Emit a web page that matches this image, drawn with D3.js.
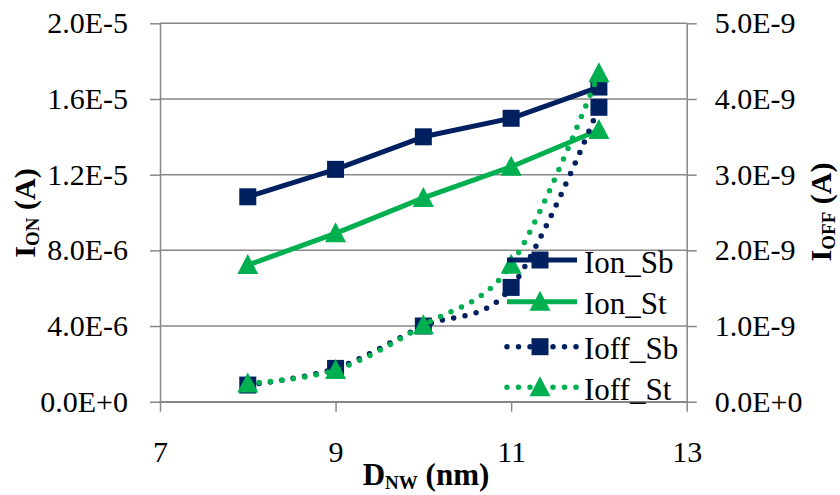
<!DOCTYPE html>
<html>
<head>
<meta charset="utf-8">
<script src="https://cdn.jsdelivr.net/npm/d3@7"></script>
<style>
  html, body { margin: 0; padding: 0; background: #fff; }
  svg { display: block; }
  text { font-family: "Liberation Serif", "Times New Roman", serif; fill: #000; }
</style>
</head>
<body>
<script>
// Nanowire diameter sweep: on-current (left axis) and off-current (right axis)
const diameters = [8, 9, 10, 11, 12];
const ionSb  = [1.083e-5, 1.228e-5, 1.400e-5, 1.498e-5, 1.663e-5];
const ionSt  = [7.22e-6, 8.90e-6, 1.077e-5, 1.242e-5, 1.436e-5];
const ioffSb = [0.22e-9, 0.44e-9, 1.00e-9, 1.51e-9, 3.89e-9];
const ioffSt = [0.24e-9, 0.42e-9, 1.01e-9, 1.81e-9, 4.34e-9];

const seriesNames = ["Ion_Sb", "Ion_St", "Ioff_Sb", "Ioff_St"];

const xTicks = [7, 9, 11, 13];
const leftTicks = [0, 4e-6, 8e-6, 1.2e-5, 1.6e-5, 2e-5];
const leftTickLabels = ["0.0E+0", "4.0E-6", "8.0E-6", "1.2E-5", "1.6E-5", "2.0E-5"];
const rightTicks = [0, 1e-9, 2e-9, 3e-9, 4e-9, 5e-9];
const rightTickLabels = ["0.0E+0", "1.0E-9", "2.0E-9", "3.0E-9", "4.0E-9", "5.0E-9"];

const W = 840, H = 495;
const plot = { left: 160, right: 686.7, top: 23.3, bottom: 401.7 };
const NAVY = "#002060", GREEN = "#00B050", GRID = "#878787";
const tickFont = 30;

const svg = d3.select("body").append("svg").attr("width", W).attr("height", H);
svg.append("rect").attr("width", W).attr("height", H).attr("fill", "#fff");

const x = d3.scaleLinear().domain([7, 13]).range([plot.left, plot.right]);
const yL = d3.scaleLinear().domain([0, 2e-5]).range([plot.bottom, plot.top]);
const yR = d3.scaleLinear().domain([0, 5e-9]).range([plot.bottom, plot.top]);

// horizontal gridlines
svg.append("g").selectAll("line").data(leftTicks).join("line")
  .attr("x1", plot.left).attr("x2", plot.right)
  .attr("y1", d => yL(d)).attr("y2", d => yL(d))
  .attr("stroke", GRID).attr("stroke-width", 1.5);

function styleAxis(g) {
  g.select(".domain").attr("stroke", GRID).attr("stroke-width", 1.5);
  g.selectAll(".tick line").attr("stroke", GRID).attr("stroke-width", 1.5);
  g.selectAll(".tick text").attr("font-size", tickFont).attr("fill", "#000");
}

const axL = svg.append("g").attr("transform", `translate(${plot.left},0)`)
  .call(d3.axisLeft(yL).tickValues(leftTicks).tickFormat((d, i) => leftTickLabels[i])
    .tickSize(10).tickSizeOuter(0).tickPadding(22));
styleAxis(axL);

const axR = svg.append("g").attr("transform", `translate(${plot.right},0)`)
  .call(d3.axisRight(yR).tickValues(rightTicks).tickFormat((d, i) => rightTickLabels[i])
    .tickSize(10).tickSizeOuter(0).tickPadding(18));
styleAxis(axR);

const axB = svg.append("g").attr("transform", `translate(0,${plot.bottom})`)
  .call(d3.axisBottom(x).tickValues(xTicks).tickFormat(d3.format("d"))
    .tickSize(10).tickSizeOuter(0).tickPadding(29));
styleAxis(axB);

// marker shapes
const triangle = {
  draw(ctx, size) {
    const w = Math.sqrt(size) * 1.05, h = Math.sqrt(size);
    ctx.moveTo(0, -h * 0.55);
    ctx.lineTo(w / 2, h * 0.45);
    ctx.lineTo(-w / 2, h * 0.45);
    ctx.closePath();
  }
};
const squarePath = d3.symbol().type(d3.symbolSquare).size(17 * 17)();
const trianglePath = d3.symbol().type(triangle).size(20 * 20)();

const series = [
  { name: seriesNames[0], values: ionSb,  y: yL, color: NAVY,  marker: squarePath,   dotted: false },
  { name: seriesNames[1], values: ionSt,  y: yL, color: GREEN, marker: trianglePath, dotted: false },
  { name: seriesNames[2], values: ioffSb, y: yR, color: NAVY,  marker: squarePath,   dotted: true },
  { name: seriesNames[3], values: ioffSt, y: yR, color: GREEN, marker: trianglePath, dotted: true }
];

function styleLine(p, s) {
  p.attr("fill", "none").attr("stroke", s.color);
  if (s.dotted) {
    p.attr("stroke-width", 5.5).attr("stroke-linecap", "round").attr("stroke-dasharray", "0 11.5");
  } else {
    p.attr("stroke-width", 5).attr("stroke-linejoin", "round");
  }
}

const plotG = svg.append("g");
series.forEach(s => {
  const line = d3.line()
    .x((d, i) => x(diameters[i]))
    .y(d => s.y(d))
    .curve(s.dotted ? d3.curveCardinal.tension(0) : d3.curveLinear);
  const g = plotG.append("g");
  styleLine(g.append("path").attr("d", line(s.values)), s);
  g.selectAll("path.mk").data(s.values).join("path").attr("class", "mk")
    .attr("d", s.marker)
    .attr("transform", (d, i) => `translate(${x(diameters[i])},${s.y(d)})`)
    .attr("fill", s.color);
});

// legend
const legend = svg.append("g");
const legRows = [260, 301.7, 346.7, 387.3];
series.forEach((s, i) => {
  const g = legend.append("g").attr("transform", `translate(507,${legRows[i]})`);
  styleLine(g.append("path").attr("d", "M0,0H70"), s);
  g.append("path").attr("d", s.marker).attr("transform", "translate(33,0)").attr("fill", s.color);
  g.append("text").attr("x", 77).attr("y", 12.5).attr("font-size", 31).text(s.name);
});

// axis titles
const xt = svg.append("text")
  .attr("transform", "translate(426,485)")
  .attr("text-anchor", "middle").attr("font-weight", "bold").attr("font-size", 31);
xt.append("tspan").text("D");
xt.append("tspan").attr("font-size", 19).attr("dy", 4).text("NW");
xt.append("tspan").attr("dy", -4).text(" (nm)");

const yt = svg.append("text")
  .attr("transform", "translate(35,213) rotate(-90)")
  .attr("text-anchor", "middle").attr("font-weight", "bold").attr("font-size", 30);
yt.append("tspan").text("I");
yt.append("tspan").attr("font-size", 19).attr("dy", 4).text("ON");
yt.append("tspan").attr("dy", -4).text(" (A)");

const rt = svg.append("text")
  .attr("transform", "translate(831,212) rotate(-90)")
  .attr("text-anchor", "middle").attr("font-weight", "bold").attr("font-size", 30);
rt.append("tspan").text("I");
rt.append("tspan").attr("font-size", 19).attr("dy", 4).text("OFF");
rt.append("tspan").attr("dy", -4).text(" (A)");
</script>
</body>
</html>
